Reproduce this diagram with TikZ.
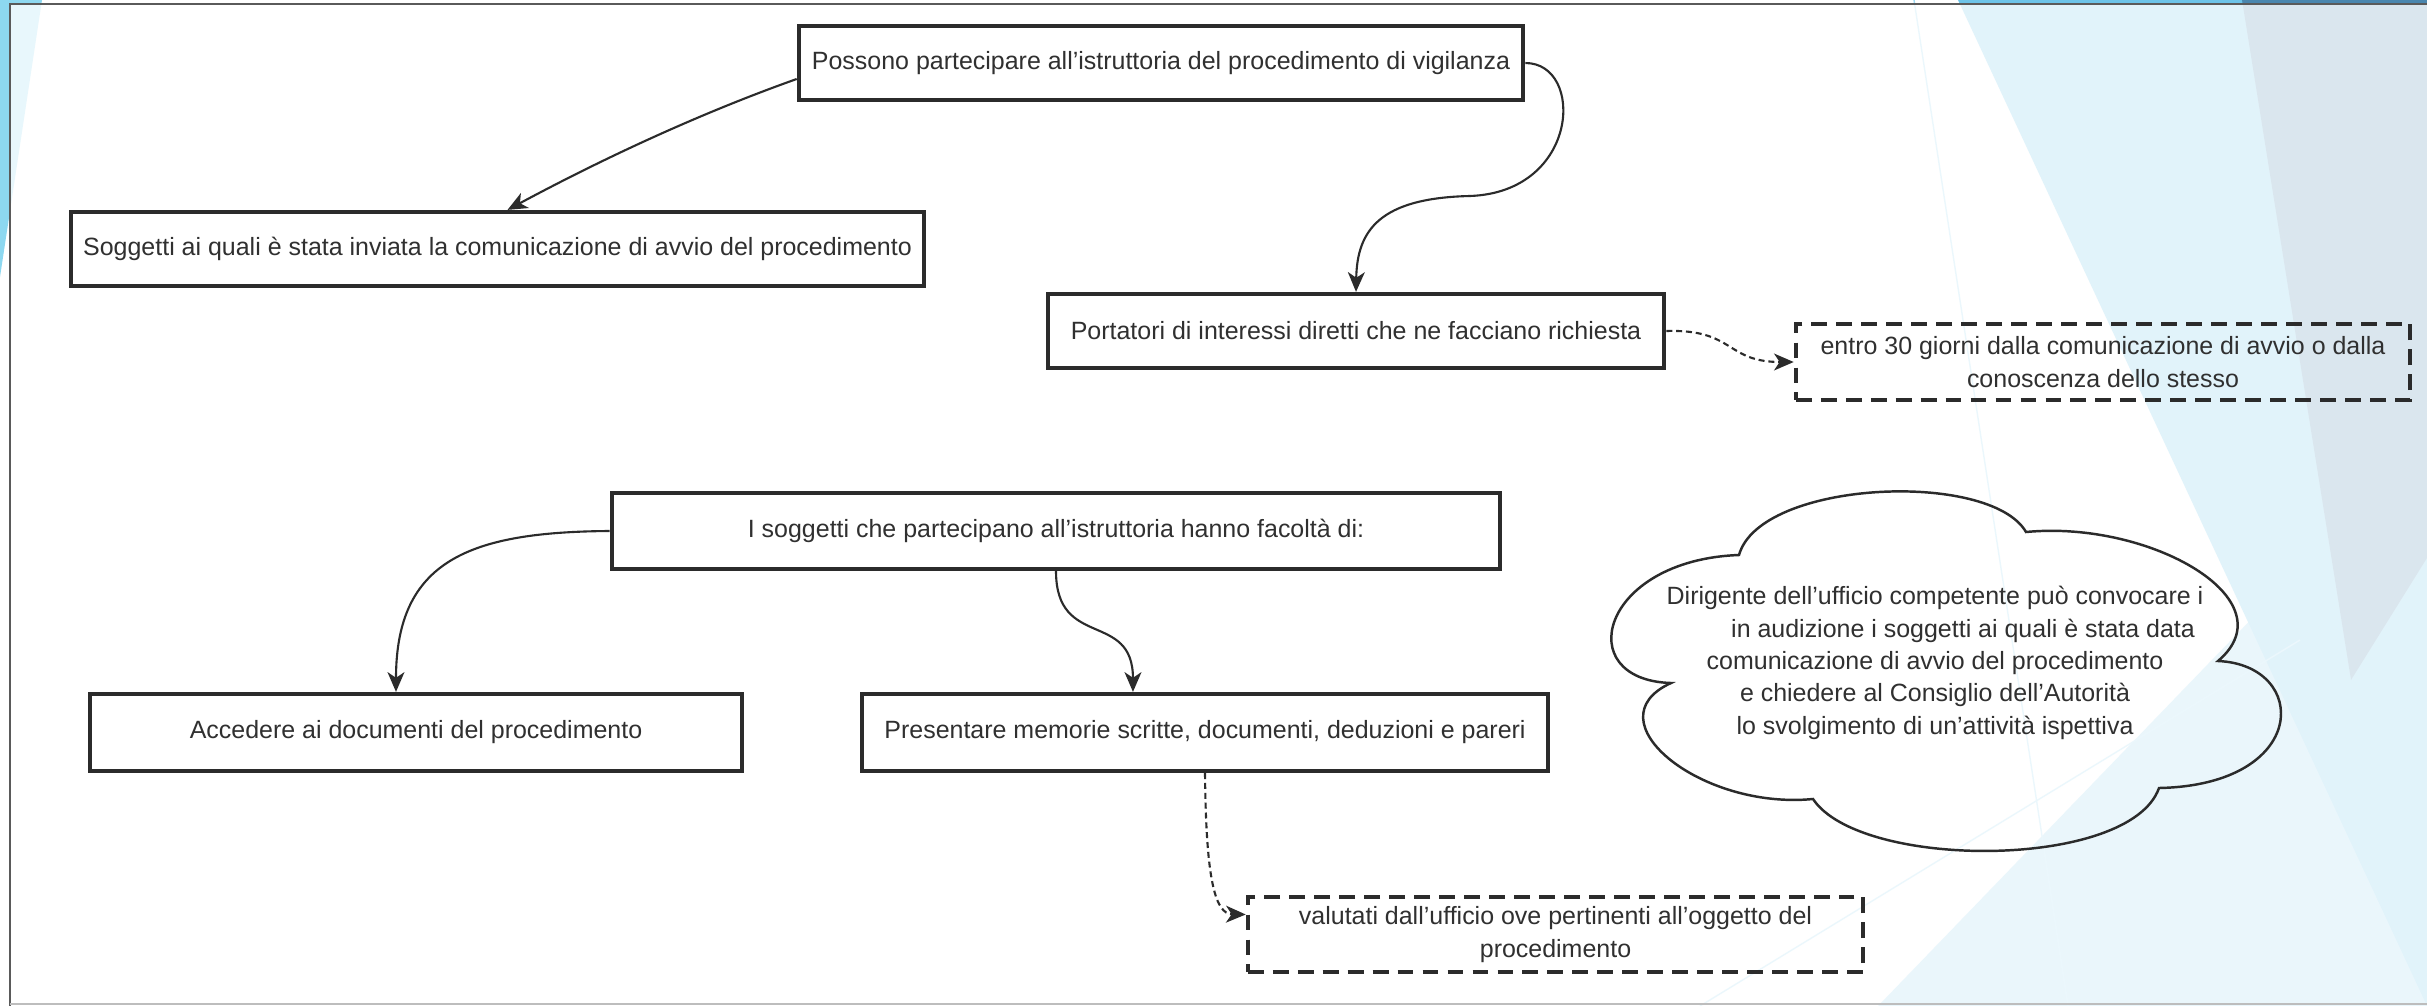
\documentclass[tikz,border=0pt]{standalone}
\usepackage{fontspec}
\setmainfont{Liberation Sans}
\usetikzlibrary{arrows.meta,calc}

\definecolor{ink}{HTML}{2B2B2B}
\definecolor{txt}{HTML}{303030}
\definecolor{facetcyan}{HTML}{8DD8F0}
\definecolor{facetlight}{HTML}{6CC3E8}
\definecolor{facetdark}{HTML}{4A86AE}
\definecolor{facetline}{HTML}{9ED9F2}
\definecolor{framegray}{HTML}{5A5A5A}

\tikzset{
  box/.style={draw=ink, line width=1.2pt, text=txt, inner sep=0pt, align=center,
              font=\fontsize{7.1}{9.6}\selectfont},
  dbox/.style={box, dash pattern=on 4.5pt off 2.6pt},
  conn/.style={draw=ink, line width=0.6pt,
               -{Stealth[length=5.6pt,width=4.8pt,inset=1.6pt]}},
  dconn/.style={conn, dash pattern=on 1.7pt off 1.1pt},
  cloudline/.style={draw=ink, line width=0.7pt},
}

\begin{document}
\begin{tikzpicture}[x=0.01cm,y=-0.01cm]
\useasboundingbox (0,0) rectangle (2427,1006);

% slide background with its facets
\fill[white] (0,0) rectangle (2427,1006);
\fill[facetcyan] (0,0) -- (42,0) -- (0,277) -- cycle;
\fill[facetlight] (1958,0) -- (2427,0) -- (2427,1006) -- cycle;
\fill[facetlight, opacity=0.7] (1878,1006) -- (2427,1006) -- (2427,437) -- cycle;
\fill[facetdark] (2242,0) -- (2427,0) -- (2427,558) -- (2351,680) -- cycle;
\draw[facetline, line width=0.4pt] (1914,0) -- (2068,1006);
\draw[facetline, line width=0.4pt] (1700,1006) -- (2300,640);

% translucent sheet carrying the diagram
\fill[white, opacity=0.8] (10,4) rectangle (2427,1006);
\draw[framegray, line width=0.6pt] (10,1006) -- (10,4) -- (2427,4);
\draw[framegray!40, line width=0.4pt] (10,1004) -- (2427,1004);

% boxes
\node[box, minimum width=7.24cm, minimum height=0.74cm] (possono) at (1161,63)
  {Possono partecipare all'istruttoria del procedimento di vigilanza};
\node[box, minimum width=8.53cm, minimum height=0.74cm] (soggetti) at (497.5,249)
  {Soggetti ai quali è stata inviata la comunicazione di avvio del procedimento};
\node[box, minimum width=6.16cm, minimum height=0.74cm] (portatori) at (1356,331)
  {Portatori di interessi diretti che ne facciano richiesta};
\node[dbox, minimum width=6.14cm, minimum height=0.76cm] (entro) at (2103,362)
  {entro 30 giorni dalla comunicazione di avvio o dalla\\conoscenza dello stesso};
\node[box, minimum width=8.88cm, minimum height=0.76cm] (facolta) at (1056,531)
  {I soggetti che partecipano all'istruttoria hanno facoltà di:};
\node[box, minimum width=6.52cm, minimum height=0.77cm] (accedere) at (416,732.5)
  {Accedere ai documenti del procedimento};
\node[box, minimum width=6.86cm, minimum height=0.77cm] (presentare) at (1205,732.5)
  {Presentare memorie scritte, documenti, deduzioni e pareri};
\node[dbox, minimum width=6.15cm, minimum height=0.75cm] (valutati) at (1555.5,934.5)
  {valutati dall'ufficio ove pertinenti all'oggetto del\\procedimento};

% cloud outline
\draw[cloudline] (1739,555)
  .. controls (1760,480) and (1990,470) .. (2026,532)
  .. controls (2150,520) and (2290,600) .. (2218,661)
  .. controls (2310,665) and (2310,785) .. (2159,788)
  .. controls (2130,870) and (1860,870) .. (1813,799)
  .. controls (1700,810) and (1590,720) .. (1671,683)
  .. controls (1570,680) and (1600,560) .. (1739,555) -- cycle;
\node[text=txt, align=center, inner sep=0pt, font=\fontsize{7.1}{9.2}\selectfont]
  (audizione) at (1935,663)
  {Dirigente dell'ufficio competente può convocare i\\
   \hspace*{0.56cm}in audizione i soggetti ai quali è stata data\\
   comunicazione di avvio del procedimento\\
   e chiedere al Consiglio dell'Autorità\\
   lo svolgimento di un'attività ispettiva};

% connectors
\draw[conn] ([yshift=-0.16cm]possono.west)
  .. controls (701,113) and (604,158) .. ([xshift=0.1cm]soggetti.north);
\draw[conn] (possono.east)
  .. controls (1585,63) and (1580,192) .. (1470,196)
  .. controls (1380,198) and (1357,230) .. (portatori.north);
\draw[dconn] (portatori.east)
  .. controls (1735,329) and (1725,362) .. (entro.west);
\draw[conn] (facolta.west)
  .. controls (470,532) and (396,560) .. ([xshift=-0.2cm]accedere.north);
\draw[conn] (facolta.south)
  .. controls (1056,650) and (1133,610) .. ([xshift=-0.72cm]presentare.north);
\draw[dconn] (presentare.south)
  .. controls (1206,880) and (1215,914) .. ([yshift=0.2cm]valutati.west);
\end{tikzpicture}
\end{document}
